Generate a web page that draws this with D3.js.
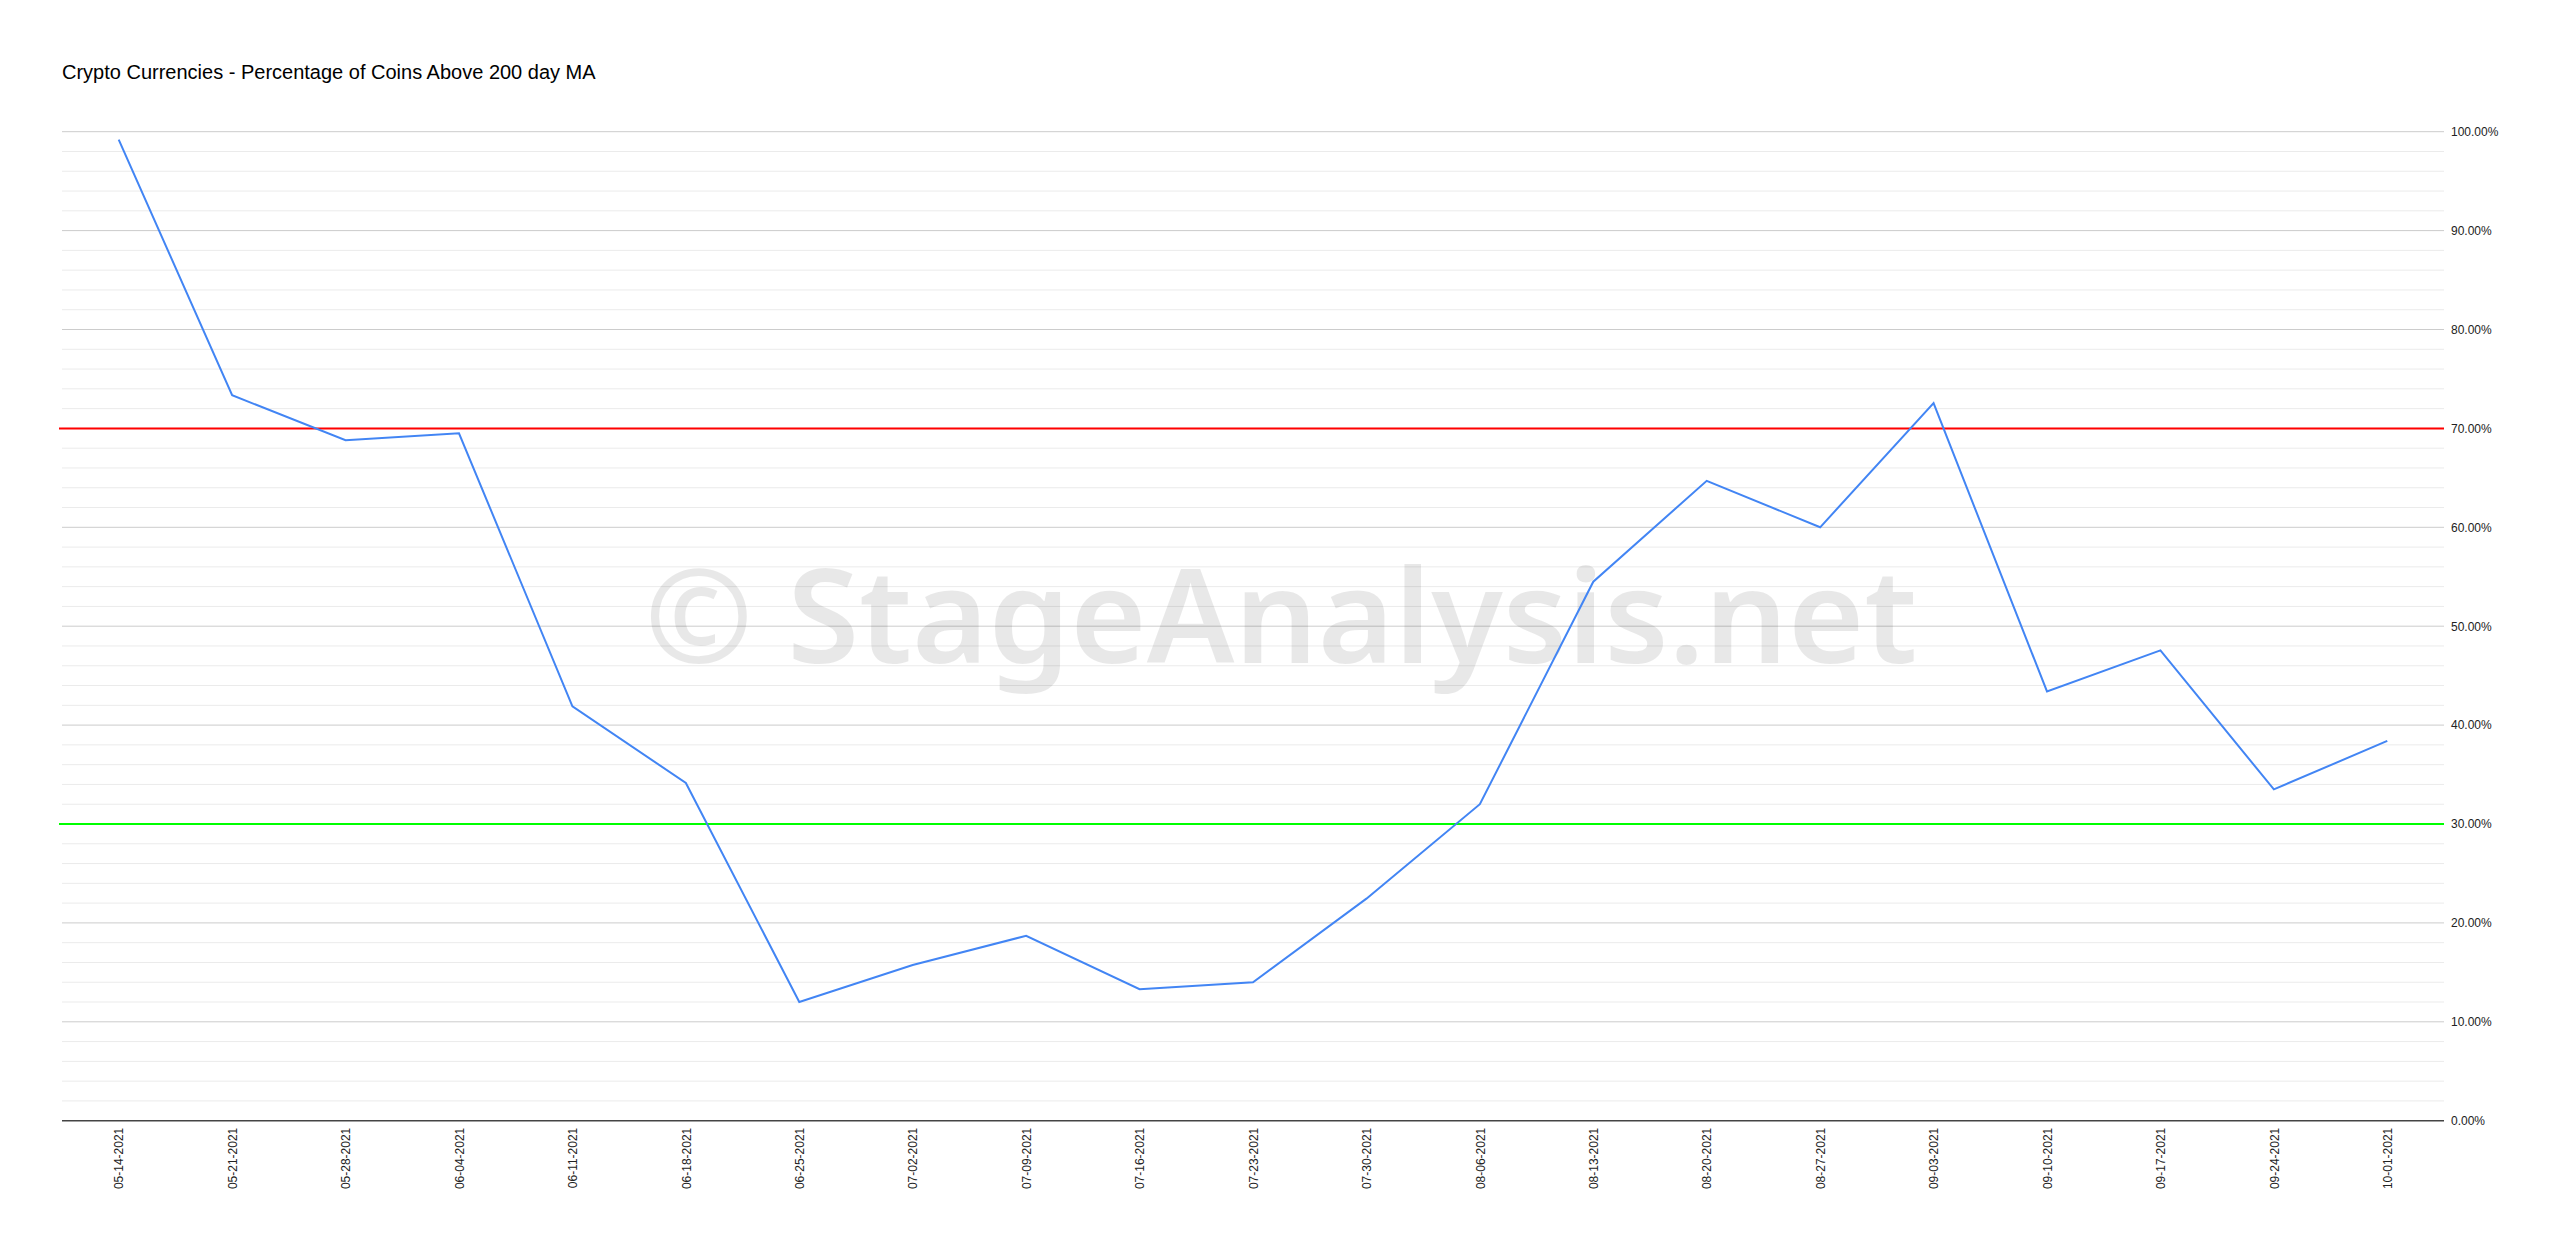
<!DOCTYPE html>
<html>
<head>
<meta charset="utf-8">
<script src="https://cdn.jsdelivr.net/npm/d3@7"></script>
<style>
  body { margin: 0; background: #fff; }
  text { font-family: "Liberation Sans", Arial, Helvetica, sans-serif; }
</style>
</head>
<body>
<div id="chart"></div>
<script>
// week ending dates (x categories)
const dates = ['05-14-2021', '05-21-2021', '05-28-2021', '06-04-2021', '06-11-2021', '06-18-2021',
    '06-25-2021', '07-02-2021', '07-09-2021', '07-16-2021', '07-23-2021', '07-30-2021',
    '08-06-2021', '08-13-2021', '08-20-2021', '08-27-2021', '09-03-2021', '09-10-2021',
    '09-17-2021', '09-24-2021', '10-01-2021'];

// percentage of coins above the 200 day MA
const pctAbove = [99.2, 73.35, 68.8, 69.5, 41.9, 34.15,
    12.0, 15.75, 18.7, 13.3, 14.0, 22.45,
    32.0, 54.5, 64.7, 60.0, 72.55, 43.4,
    47.55, 33.5, 38.4];

const majorTicks = [0, 10, 20, 30, 40, 50, 60, 70, 80, 90, 100];
const minorTicks = d3.range(0, 101, 2).filter(d => d % 10 !== 0);
const upperLevel = 70;
const lowerLevel = 30;

const titleText = 'Crypto Currencies - Percentage of Coins Above 200 day MA';
const watermarkText = '\u00A9 StageAnalysis.net';

var svgwidth = 2560;
var svgheight = 1250;

var plotLeft = 62, plotRight = 2444, plotTop = 131.7, plotBottom = 1120.7;

var svg = d3.select('#chart')
    .append('svg')
    .attr('width', svgwidth)
    .attr('height', svgheight);

svg.append('text')
    .attr('x', 62)
    .attr('y', 79)
    .attr('font-size', 20)
    .attr('fill', '#000')
    .text(titleText);

var xscale = d3.scalePoint()
    .domain(dates)
    .range([plotLeft, plotRight])
    .padding(0.5);

var yscale = d3.scaleLinear()
    .domain([0, 100])
    .range([plotBottom, plotTop]);

// gridlines
svg.append('g')
    .selectAll('line')
    .data(minorTicks)
    .join('line')
    .attr('x1', plotLeft).attr('x2', plotRight)
    .attr('y1', d => yscale(d)).attr('y2', d => yscale(d))
    .attr('stroke', '#ebebeb')
    .attr('stroke-width', 1);

svg.append('g')
    .selectAll('line')
    .data(majorTicks.filter(d => d > 0))
    .join('line')
    .attr('x1', plotLeft).attr('x2', plotRight)
    .attr('y1', d => yscale(d)).attr('y2', d => yscale(d))
    .attr('stroke', '#cccccc')
    .attr('stroke-width', 1);

// watermark
var wm = svg.append('text')
    .attr('x', 1281)
    .attr('y', 663)
    .attr('text-anchor', 'middle')
    .attr('font-size', 144)
    .attr('font-weight', 600)
    .style('font-family', '"Noto Sans", "Open Sans", sans-serif')
    .attr('fill', 'rgba(0,0,0,0.09)')
    .text(watermarkText);
var wmLen = wm.node().getComputedTextLength();
wm.attr('font-size', 144 * 1273 / wmLen);

// y axis labels on the right
var yaxis = d3.axisRight(yscale)
    .tickValues(majorTicks)
    .tickSize(0)
    .tickPadding(7)
    .tickFormat(d => d.toFixed(2) + '%');

var gy = svg.append('g')
    .attr('transform', 'translate(' + plotRight + ',0)')
    .call(yaxis);
gy.select('.domain').remove();
gy.selectAll('text')
    .attr('font-size', 12)
    .attr('fill', '#222')
    .style('font-family', '"Liberation Sans", Arial, sans-serif');

// x axis
var xaxis = d3.axisBottom(xscale).tickSize(0).tickPadding(0);
var gx = svg.append('g')
    .attr('transform', 'translate(0,' + plotBottom + ')')
    .call(xaxis);
gx.select('.domain').remove();
gx.selectAll('text')
    .attr('font-size', 12)
    .attr('fill', '#222')
    .style('font-family', '"Liberation Sans", Arial, sans-serif')
    .attr('text-anchor', 'end')
    .attr('transform', 'rotate(-90)')
    .attr('x', -7)
    .attr('y', 0)
    .attr('dy', '0.35em');

svg.append('line')
    .attr('x1', plotLeft).attr('x2', plotRight)
    .attr('y1', plotBottom).attr('y2', plotBottom)
    .attr('stroke', '#444')
    .attr('stroke-width', 1.5);

// threshold lines
svg.append('line')
    .attr('x1', plotLeft - 3).attr('x2', plotRight)
    .attr('y1', yscale(upperLevel)).attr('y2', yscale(upperLevel))
    .attr('stroke', '#ff0000')
    .attr('stroke-width', 2);

svg.append('line')
    .attr('x1', plotLeft - 3).attr('x2', plotRight)
    .attr('y1', yscale(lowerLevel)).attr('y2', yscale(lowerLevel))
    .attr('stroke', '#00ff00')
    .attr('stroke-width', 2);

// the series
var line = d3.line()
    .x((d, i) => xscale(dates[i]))
    .y(d => yscale(d));

svg.append('path')
    .datum(pctAbove)
    .attr('fill', 'none')
    .attr('stroke', '#4285f4')
    .attr('stroke-width', 2)
    .attr('stroke-linejoin', 'miter')
    .attr('d', line);
</script>
</body>
</html>
